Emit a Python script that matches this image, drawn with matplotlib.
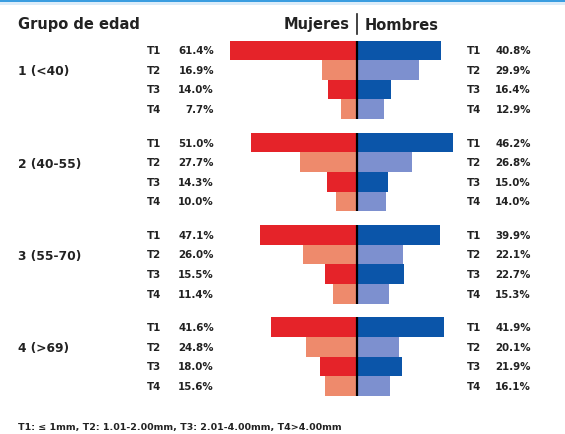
import matplotlib
matplotlib.use("Agg")
import matplotlib.pyplot as plt
from matplotlib.patches import Rectangle

groups = ["1 (<40)", "2 (40-55)", "3 (55-70)", "4 (>69)"]
tiers = ["T1", "T2", "T3", "T4"]
mujeres = [
    [61.4, 16.9, 14.0, 7.7],
    [51.0, 27.7, 14.3, 10.0],
    [47.1, 26.0, 15.5, 11.4],
    [41.6, 24.8, 18.0, 15.6],
]
hombres = [
    [40.8, 29.9, 16.4, 12.9],
    [46.2, 26.8, 15.0, 14.0],
    [39.9, 22.1, 22.7, 15.3],
    [41.9, 20.1, 21.9, 16.1],
]
footnote = "T1: \u2264 1mm, T2: 1.01-2.00mm, T3: 2.01-4.00mm, T4>4.00mm"

W, H = 565, 435
fig = plt.figure(figsize=(W / 100, H / 100), dpi=100)
fig.patch.set_facecolor("white")

cx = 357.0
scale = 2.07  # px per percent
ax = fig.add_axes([0, 0, 1, 1])
ax.set_xlim(-cx / scale, (W - cx) / scale)
ax.set_ylim(H, 0)
ax.axis("off")

w_cols = ["#e52329", "#ee8a6c", "#e52329", "#ee8a6c"]
m_cols = ["#0b55a9", "#7d90cf", "#0b55a9", "#7d90cf"]

top0 = 41.5
gstep = 92.3
bh = 19.6

def fx(px):
    return px / W

def fy(py):
    return 1 - py / H

tc = "#222222"
tfont = dict(family="DejaVu Sans", fontweight="bold", fontsize=7.4, color=tc, va="center")

for g, name in enumerate(groups):
    gtop = top0 + g * gstep
    ycs = [gtop + (i + 0.5) * bh for i in range(4)]
    ax.barh(ycs, [-v for v in mujeres[g]], height=bh, color=w_cols, left=0, linewidth=0)
    ax.barh(ycs, hombres[g], height=bh, color=m_cols, left=0, linewidth=0)
    ax.vlines(0, gtop, gtop + 4 * bh, color="black", linewidth=1.6)
    for i in range(4):
        yc = ycs[i]
        fig.text(fx(147), fy(yc), tiers[i], ha="left", **tfont)
        fig.text(fx(214), fy(yc), f"{mujeres[g][i]:.1f}%", ha="right", **tfont)
        fig.text(fx(467), fy(yc), tiers[i], ha="left", **tfont)
        fig.text(fx(531), fy(yc), f"{hombres[g][i]:.1f}%", ha="right", **tfont)
    fig.text(fx(18), fy(gtop + 1.55 * bh), name, ha="left", va="center",
             family="DejaVu Sans", fontweight="bold", fontsize=8.8, color=tc)

# header
hfont = dict(family="DejaVu Sans", fontweight="bold", fontsize=10.5, color=tc, va="center")
fig.text(fx(18), fy(25), "Grupo de edad", ha="left", **hfont)
fig.text(fx(350), fy(25), "Mujeres", ha="right", **hfont)
fig.text(fx(365), fy(25), "Hombres", ha="left", **hfont)
fig.add_artist(plt.Line2D([fx(357), fx(357)], [fy(15), fy(35)], color=tc, linewidth=1.2))

# footnote
fig.text(fx(18), fy(428), footnote, ha="left", va="center",
         family="DejaVu Sans", fontweight="bold", fontsize=6.8, color=tc)

# top stripe
fig.add_artist(Rectangle((0, fy(3)), 1, 3 / H, transform=fig.transFigure,
                         facecolor="#3a9de0", edgecolor="none"))
fig.add_artist(Rectangle((0, fy(6)), 1, 3 / H, transform=fig.transFigure,
                         facecolor="#dcecf9", edgecolor="none"))

fig.savefig("out.png", dpi=100, facecolor="white")
